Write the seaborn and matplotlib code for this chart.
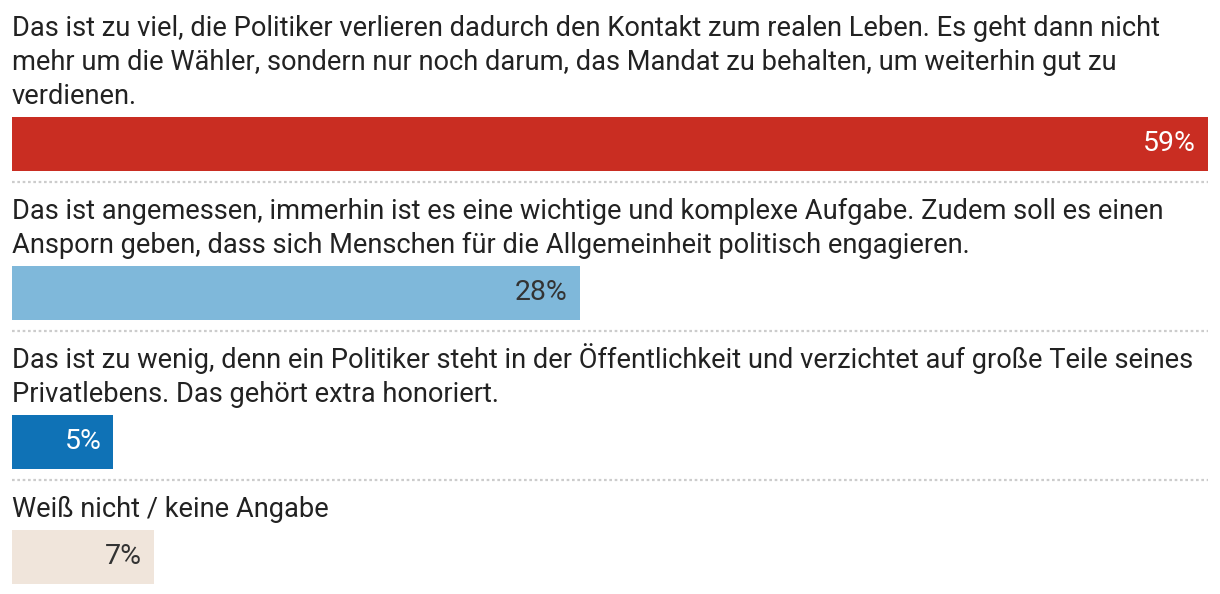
import matplotlib
matplotlib.use("Agg")
import matplotlib.pyplot as plt
import seaborn as sns
import pandas as pd

# ---- data ----
answers = [
    ["Das ist zu viel, die Politiker verlieren dadurch den Kontakt zum realen Leben. Es geht dann nicht",
     "mehr um die Wähler, sondern nur noch darum, das Mandat zu behalten, um weiterhin gut zu",
     "verdienen."],
    ["Das ist angemessen, immerhin ist es eine wichtige und komplexe Aufgabe. Zudem soll es einen",
     "Ansporn geben, dass sich Menschen für die Allgemeinheit politisch engagieren."],
    ["Das ist zu wenig, denn ein Politiker steht in der Öffentlichkeit und verzichtet auf große Teile seines",
     "Privatlebens. Das gehört extra honoriert."],
    ["Weiß nicht / keine Angabe"],
]
values = [59, 28, 5, 7]
value_labels = ["59%", "28%", "5%", "7%"]
bar_colors = ["#C92D22", "#7FB8DA", "#0F72B6", "#F0E5DB"]
label_colors = ["white", "#333333", "white", "#333333"]

# ---- layout (pixel units) ----
W, H = 1220, 594
left_px, right_px = 12, 1208
sep_to_base, line_h, base_to_bar, bar_h, bar_to_sep = 37, 34, 12.5, 54, 11.5

sns.set_theme(style="white")
plt.rcParams["font.family"] = ["Roboto", "DejaVu Sans"]

fig = plt.figure(figsize=(W / 100, H / 100), dpi=100)
ax = fig.add_axes([left_px / W, 0, (right_px - left_px) / W, 1])
xmax = max(values)
px = xmax / (right_px - left_px)  # data units per pixel

y = -1.0
centers, baselines_all, seps = [], [], []
for lines in answers:
    bl = [y + sep_to_base + line_h * k for k in range(len(lines))]
    baselines_all.append(bl)
    top = bl[-1] + base_to_bar
    centers.append(top + bar_h / 2)
    y = top + bar_h + bar_to_sep
    seps.append(y)

df = pd.DataFrame({"value": values, "pos": centers, "cat": [a[0] for a in answers]})
min_gap = min(b - a for a, b in zip(centers[:-1], centers[1:]))
sns.barplot(data=df, x="value", y="pos", hue="cat", palette=bar_colors,
            orient="h", native_scale=True, width=bar_h / min_gap,
            legend=False, ax=ax, saturation=1, linewidth=0)
ax.set_xlim(0, xmax)
ax.set_ylim(H, 0)
ax.axis("off")

for lines, bl in zip(answers, baselines_all):
    for line, b in zip(lines, bl):
        ax.text(0, b, line, fontsize=19.6, color="#222222", va="baseline", ha="left")

for v, lab, c, cy in zip(values, value_labels, label_colors, centers):
    ax.text(v - 12 * px, cy, lab, fontsize=20.5, color=c, va="center", ha="right")

for s in seps[:-1]:
    ax.plot([0, xmax], [s, s], color="#CCCCCC", lw=1.6, ls=(0, (1.2, 1.2)),
            solid_capstyle="butt", dash_capstyle="butt")

fig.savefig("out.png", dpi=100)
